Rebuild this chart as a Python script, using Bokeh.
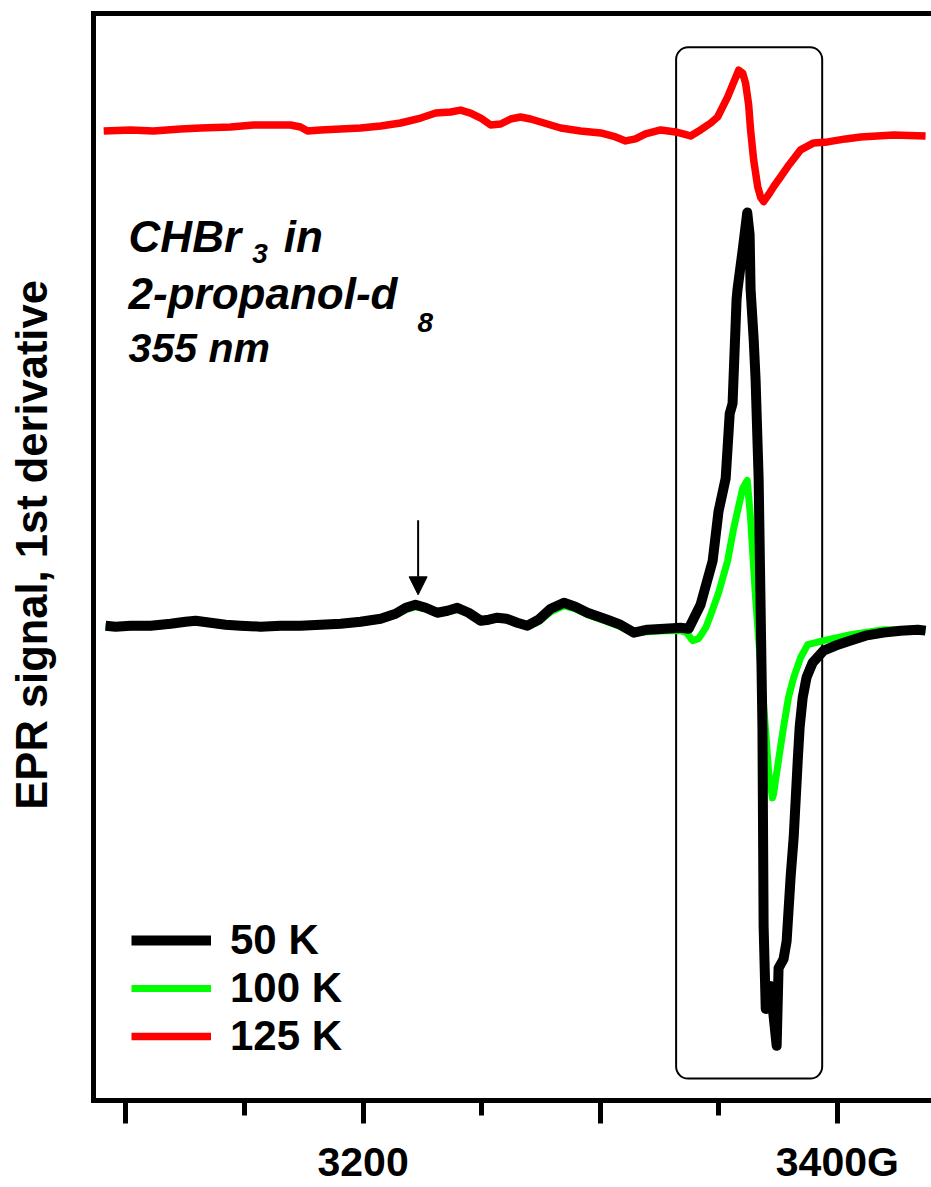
from bokeh.plotting import figure
from bokeh.models import (Range1d, LinearAxis, FixedTicker, Legend, LegendItem,
                          Label, BoxAnnotation, Arrow, NormalHead)
from bokeh.embed import file_html
from bokeh.resources import INLINE

# ---------------- data (magnetic field in G, EPR 1st-derivative signal, arb. units) -------------
field_50K = [3091.4, 3095.6, 3101.9, 3110.4, 3118.8, 3125.1, 3129.4, 3135.7, 3142.0, 3148.3,
             3156.8, 3165.2, 3173.6, 3182.1, 3190.5, 3198.9, 3207.4, 3213.7, 3218.0, 3222.1,
             3226.4, 3231.3, 3235.6, 3239.7, 3244.5, 3249.6, 3253.0, 3256.6, 3260.5, 3265.0,
             3269.3, 3274.0, 3279.1, 3284.7, 3289.5, 3294.6, 3303.0, 3308.5, 3314.2, 3319.9,
             3327.0, 3333.9, 3337.3, 3342.3, 3347.4, 3349.9, 3352.9, 3354.6, 3355.8, 3357.5,
             3357.9, 3360.1, 3362.0, 3363.0, 3363.4, 3364.7, 3365.5, 3366.8, 3368.4, 3368.9,
             3369.8, 3371.0, 3371.9, 3373.1, 3374.4, 3375.2, 3377.3, 3378.6, 3380.3, 3381.6,
             3383.3, 3384.1, 3385.4, 3387.0, 3389.6, 3394.2, 3399.3, 3405.6, 3411.9, 3419.5,
             3426.7, 3433.9, 3437.2]
signal_50K = [0.00, -0.01, 0.00, 0.00, 0.02, 0.04, 0.05, 0.03, 0.01, 0.00,
              -0.01, 0.00, 0.00, 0.01, 0.02, 0.04, 0.07, 0.12, 0.18, 0.21,
              0.18, 0.13, 0.15, 0.18, 0.13, 0.05, 0.06, 0.08, 0.07, 0.03,
              0.00, 0.06, 0.17, 0.23, 0.19, 0.13, 0.06, 0.01, -0.07, -0.04,
              -0.03, -0.02, -0.03, 0.21, 0.65, 1.15, 1.48, 2.13, 2.23, 3.28,
              3.38, 3.78, 4.15, 3.93, 3.38, 2.88, 2.48, 1.48, -1.02, -3.02,
              -3.85, -3.72, -3.62, -3.92, -4.22, -3.44, -3.35, -3.17, -2.52, -2.12,
              -1.35, -1.02, -0.72, -0.52, -0.37, -0.25, -0.20, -0.15, -0.10, -0.07,
              -0.05, -0.04, -0.05]

field_100K = [3091.4, 3101.9, 3110.4, 3118.8, 3125.1, 3129.4, 3135.7, 3142.0, 3148.3, 3156.8,
              3165.2, 3173.6, 3182.1, 3190.5, 3198.9, 3207.4, 3213.7, 3218.0, 3222.1, 3226.4,
              3231.3, 3235.6, 3239.7, 3244.5, 3249.6, 3253.0, 3256.6, 3260.5, 3265.0, 3269.3,
              3274.0, 3279.1, 3284.7, 3289.5, 3294.6, 3303.0, 3308.5, 3314.2, 3319.9, 3327.0,
              3333.9, 3336.4, 3339.0, 3341.5, 3344.5, 3346.6, 3349.9, 3353.7, 3356.3, 3357.9,
              3360.1, 3362.0, 3363.4, 3365.5, 3367.7, 3369.8, 3371.0, 3372.6, 3373.1, 3375.2,
              3377.3, 3379.4, 3381.6, 3384.5, 3387.5, 3394.2, 3405.6, 3419.5, 3426.7, 3437.2]
signal_100K = [-0.01, -0.01, -0.01, 0.01, 0.03, 0.04, 0.02, 0.00, -0.01, -0.02,
               -0.01, -0.01, 0.00, 0.01, 0.03, 0.06, 0.11, 0.16, 0.19, 0.17,
               0.12, 0.14, 0.16, 0.12, 0.04, 0.05, 0.07, 0.06, 0.02, -0.01,
               0.04, 0.14, 0.20, 0.17, 0.11, 0.04, -0.01, -0.08, -0.06, -0.05,
               -0.05, -0.07, -0.15, -0.13, -0.02, 0.11, 0.33, 0.65, 0.98, 1.15,
               1.38, 1.46, 1.08, 0.28, -0.42, -1.07, -1.47, -1.73, -1.69, -1.35,
               -1.02, -0.72, -0.52, -0.32, -0.19, -0.15, -0.09, -0.04, -0.04, -0.04]

field_125K = [3090.6, 3101.9, 3111.6, 3123.0, 3131.5, 3144.1, 3153.8, 3161.0, 3169.4, 3173.6,
              3176.6, 3182.1, 3190.5, 3198.9, 3207.4, 3215.8, 3224.3, 3230.6, 3236.9, 3241.1,
              3245.3, 3249.6, 3253.8, 3258.0, 3262.2, 3266.4, 3270.6, 3274.9, 3283.3, 3291.7,
              3300.2, 3306.5, 3310.7, 3314.9, 3319.1, 3325.5, 3331.8, 3338.1, 3342.3, 3346.6,
              3349.5, 3353.7, 3356.3, 3358.4, 3360.1, 3361.3, 3362.6, 3363.4, 3364.7, 3366.4,
              3367.7, 3368.9, 3371.0, 3373.1, 3376.1, 3379.0, 3384.5, 3390.0, 3395.9, 3403.5,
              3409.8, 3423.7, 3437.2]
signal_125K = [-0.01, 0.00, -0.01, 0.01, 0.02, 0.03, 0.05, 0.05, 0.05, 0.03,
               -0.01, 0.00, 0.01, 0.02, 0.04, 0.07, 0.12, 0.17, 0.18, 0.20,
               0.17, 0.12, 0.05, 0.06, 0.11, 0.13, 0.11, 0.08, 0.02, -0.01,
               -0.03, -0.07, -0.11, -0.09, -0.04, 0.00, -0.02, -0.06, 0.00, 0.07,
               0.13, 0.33, 0.48, 0.60, 0.57, 0.47, 0.25, 0.00, -0.30, -0.57,
               -0.68, -0.72, -0.65, -0.57, -0.47, -0.37, -0.20, -0.13, -0.12, -0.09,
               -0.07, -0.05, -0.06]
offset_125K = 4.98  # vertical offset of the 125 K trace

major_ticks = [3100, 3200, 3300, 3400]
minor_ticks = [3150, 3250, 3350]
tick_labels = {3100: "", 3200: "3200", 3300: "", 3400: "3400G"}
series_labels = ["50 K", "100 K", "125 K"]
y_title = "EPR signal, 1st derivative"

FONT = "Liberation Sans"

p = figure(width=931, height=1187, output_backend="svg", toolbar_location=None,
           x_range=Range1d(3086.3, 3439.7), y_range=Range1d(-4.77, 6.15),
           x_axis_location=None, y_axis_location=None,
           min_border_left=93, min_border_right=0, min_border_top=13, min_border_bottom=82)
p.outline_line_color = None
p.grid.visible = False
p.background_fill_color = "white"
p.border_fill_color = "white"

# bottom axis
xaxis = LinearAxis(ticker=FixedTicker(ticks=major_ticks, minor_ticks=minor_ticks),
                   major_label_overrides=tick_labels,
                   axis_line_width=5, axis_line_cap="square",
                   major_tick_line_width=5, minor_tick_line_width=5,
                   major_tick_out=23, major_tick_in=0, minor_tick_out=15, minor_tick_in=0,
                   major_label_text_font=FONT, major_label_text_font_style="bold",
                   major_label_text_color="black",
                   major_label_text_font_size="41px", major_label_standoff=15)
p.add_layout(xaxis, "below")

# left spine with the axis title (two leading no-break spaces nudge it upward)
yaxis = LinearAxis(ticker=FixedTicker(ticks=[]), axis_label="\u00a0\u00a0" + y_title,
                   axis_label_text_font=FONT, axis_label_text_font_style="bold",
                   axis_label_text_font_size="43.5px", axis_label_text_color="black",
                   axis_label_standoff=38,
                   axis_line_width=5, axis_line_cap="square",
                   major_tick_out=0, major_tick_in=0, minor_tick_out=0, minor_tick_in=0,
                   major_label_text_font_size="0px")
p.add_layout(yaxis, "left")

# top spine
top = LinearAxis(ticker=FixedTicker(ticks=[]), axis_line_width=5, axis_line_cap="square",
                 major_tick_out=0, major_tick_in=0, minor_tick_out=0, minor_tick_in=0,
                 major_label_text_font_size="0px")
p.add_layout(top, "above")

# framed region
box = BoxAnnotation(left=3332.0, right=3393.6, top=5.81, bottom=-4.55,
                    fill_alpha=0, line_color="black", line_alpha=1.0, line_width=2,
                    border_radius=12, level="underlay")
p.add_layout(box)

g = p.line(field_100K, signal_100K, line_color="#00ff00", line_width=7, line_join="round")
b = p.line(field_50K, signal_50K, line_color="black", line_width=10, line_join="round")
r = p.line(field_125K, [v + offset_125K for v in signal_125K], line_color="#ff0000",
           line_width=7.5, line_join="round")

legend = Legend(items=[LegendItem(label=series_labels[0], renderers=[b]),
                       LegendItem(label=series_labels[1], renderers=[g]),
                       LegendItem(label=series_labels[2], renderers=[r])],
                location=(38, 40), glyph_width=80, glyph_height=20, label_standoff=19,
                label_text_font=FONT, label_text_font_style="bold", label_text_color="black",
                label_text_font_size="42px", spacing=0, padding=0, margin=0,
                border_line_color=None, background_fill_alpha=0)
p.add_layout(legend)

# arrow marking the feature
p.add_layout(Arrow(end=NormalHead(size=18, fill_color="black", line_color="black"),
                   x_start=3223.2, y_start=1.06, x_end=3223.2, y_end=0.31,
                   line_color="black", line_width=2))

# annotation texts
def lab(x, y, t, size):
    p.add_layout(Label(x=x, y=y, text=t, text_font=FONT, text_font_style="bold italic",
                       text_font_size=size, text_color="black",
                       text_baseline="alphabetic", text_align="left"))

lab(3101.1, 3.91, "CHBr", "44px")
lab(3153.3, 3.74, "3", "28px")
lab(3166.5, 3.91, "in", "44px")
lab(3101.1, 3.34, "2-propanol-d", "44px")
lab(3222.9, 3.05, "8", "28px")
lab(3101.1, 2.79, "355 nm", "41px")

open("out.html", "w").write(file_html(p, INLINE))
